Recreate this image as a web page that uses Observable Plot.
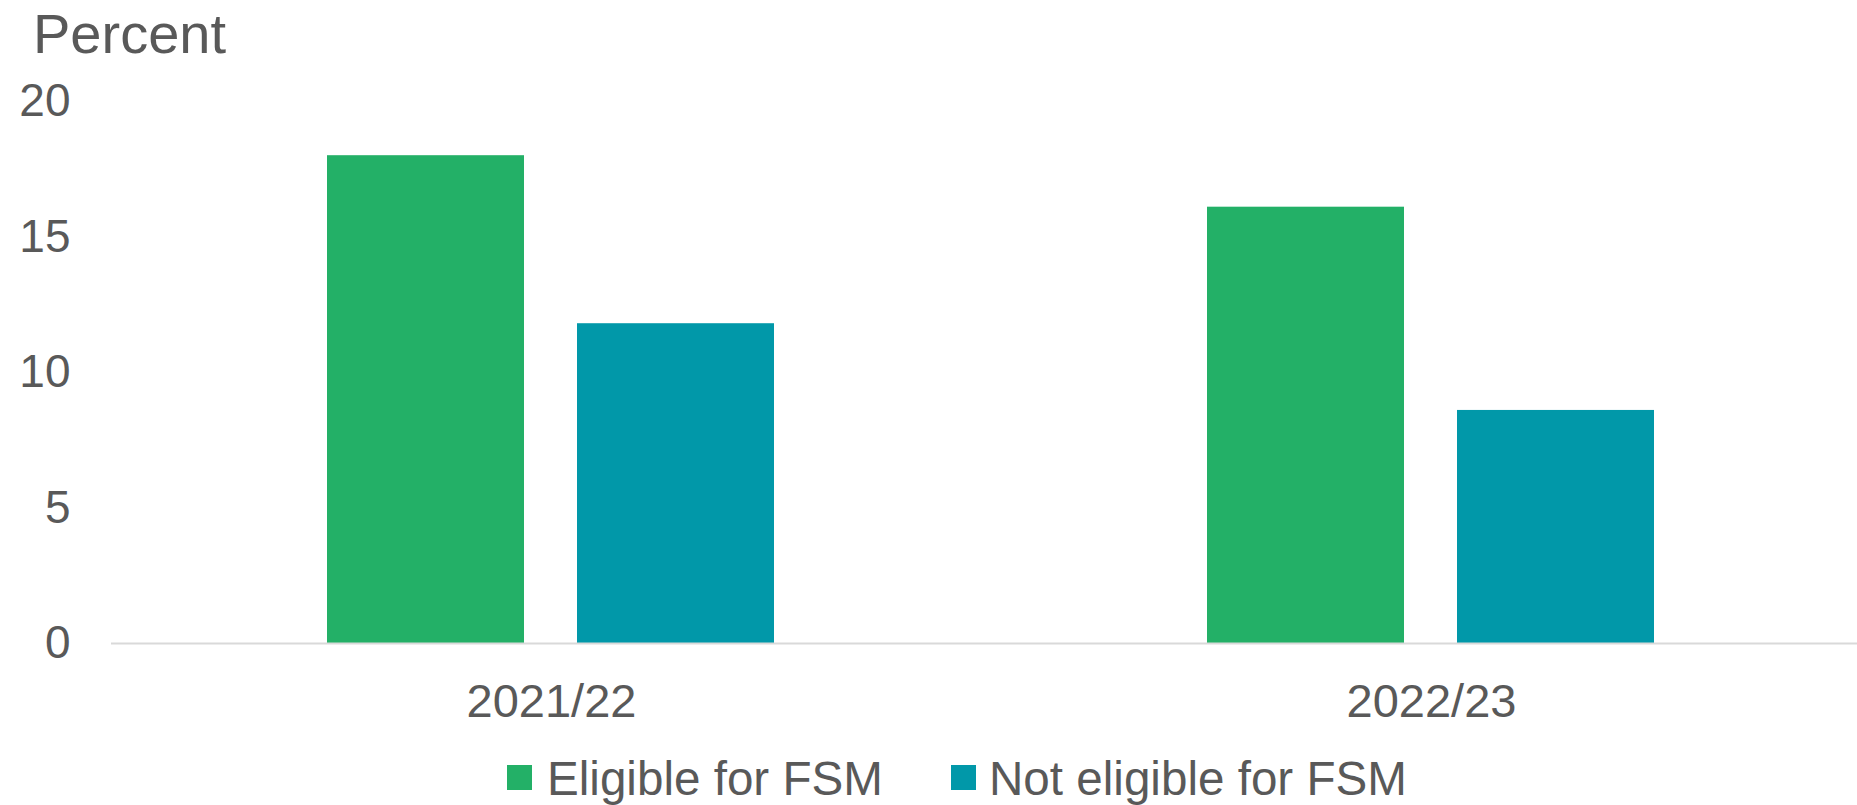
<!DOCTYPE html>
<html>
<head>
<meta charset="utf-8">
<script src="https://cdn.jsdelivr.net/npm/d3@7"></script>
<script src="https://cdn.jsdelivr.net/npm/@observablehq/plot@0.6"></script>
<style>
  html, body { margin: 0; padding: 0; background: #fff; }
  #wrap { position: relative; width: 1857px; height: 805px; font-family: "Liberation Sans", Arial, sans-serif; color: #595959; overflow: hidden; }
  #title { position: absolute; left: 33px; top: 6px; font-size: 56px; line-height: 56px; }
  #chart { position: absolute; left: 0; top: 0; }
  .sw { position: absolute; width: 25px; height: 25px; top: 765px; }
  .lt { position: absolute; top: 755px; font-size: 47.6px; line-height: 47px; white-space: nowrap; }
</style>
</head>
<body>
<div id="wrap">
  <div id="chart"></div>
  <div id="title">Percent</div>
  <div id="legend"></div>
</div>
<script>
const periods = ["2021/22", "2022/23"];
const series = ["Eligible for FSM", "Not eligible for FSM"];
const eligible = [18.0, 16.1];
const notEligible = [11.8, 8.6];
const colors = ["#23B067", "#0198A9"];
const yTicks = [0, 5, 10, 15, 20];

const table = [];
periods.forEach((p, i) => {
  table.push({period: p, series: series[0], value: eligible[i]});
  table.push({period: p, series: series[1], value: notEligible[i]});
});

const chart = Plot.plot({
  width: 1857,
  height: 735,
  marginLeft: 110,
  marginRight: 0,
  marginTop: 101,
  marginBottom: 92,
  style: {fontFamily: "'Liberation Sans', Arial, sans-serif", fontSize: "46px", color: "#595959", background: "transparent"},
  fx: {domain: periods, padding: 0, range: [110, 1871], label: null, axis: "bottom", tickSize: 0, tickPadding: 40},
  x: {domain: series, paddingInner: 0.211, paddingOuter: 0.861, axis: null},
  y: {domain: [0, 20], ticks: yTicks, tickSize: 0, tickPadding: 41, label: null},
  color: {domain: series, range: colors},
  marks: [
    Plot.barY(table, {fx: "period", x: "series", y: "value", fill: "series"}),
    Plot.ruleY([0], {stroke: "#D9D9D9", strokeWidth: 2})
  ]
});
chart.querySelectorAll("g[aria-label='fx-axis tick label'] text").forEach(t => t.style.fontSize = "47px");
document.getElementById("chart").appendChild(chart);

const legend = document.getElementById("legend");
const swX = [507, 951];
const txX = [547, 989];
series.forEach((s, i) => {
  const sw = document.createElement("div");
  sw.className = "sw";
  sw.style.left = swX[i] + "px";
  sw.style.background = colors[i];
  legend.appendChild(sw);
  const t = document.createElement("div");
  t.className = "lt";
  t.style.left = txX[i] + "px";
  t.textContent = s;
  legend.appendChild(t);
});
</script>
</body>
</html>
